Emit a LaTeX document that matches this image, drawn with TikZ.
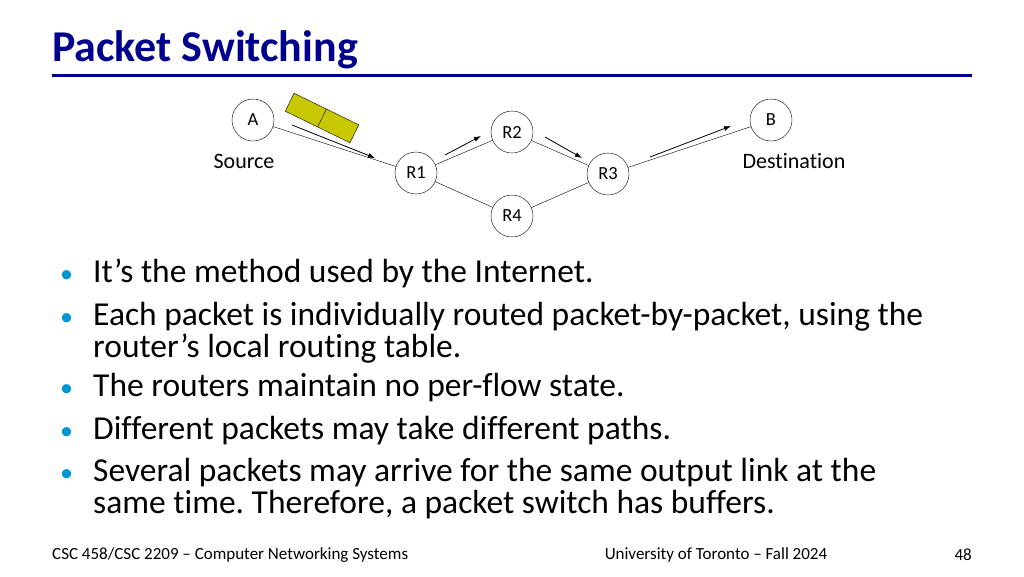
\documentclass[tikz,border=0pt]{standalone}
\usepackage{fontspec}
\setmainfont{Carlito}[RawFeature={-liga;-clig}]
\frenchspacing
\usetikzlibrary{arrows.meta}
\definecolor{titleblue}{RGB}{0,0,140}
\definecolor{bulletblue}{RGB}{0,150,210}
\definecolor{pktyellow}{RGB}{200,200,0}
\tikzset{
  router/.style={draw, circle, minimum size=42pt, inner sep=0pt, font=\fontsize{18.5}{20}\selectfont},
  lbl/.style={font=\fontsize{22}{26}\selectfont},
  flow/.style={-{Latex[length=7pt,width=5pt]}, line width=0.8pt},
  bullet/.style={anchor=base west, font=\fontsize{33.5}{38}\selectfont, inner sep=0pt},
  dot/.style={anchor=base west, font=\fontsize{26}{30}\selectfont, text=bulletblue, inner sep=0pt},
  foot/.style={font=\fontsize{17}{20}\selectfont, inner sep=0pt}
}
\begin{document}
\begin{tikzpicture}[x=1pt,y=1pt]
	\useasboundingbox (0,0) rectangle (1024,-576);
	% title
	\node [anchor=west, inner sep=0pt, font=\fontsize{44}{50}\selectfont\bfseries, text=titleblue] (title) at (52,-50) {Packet Switching};
	\draw [titleblue, line width=3pt] (52,-75) -- (972,-75);

	% network
	\node [router] (A) at (253,-120) {A};
	\node [router] (B) at (771,-120) {B};
	\node [router] (R1) at (416,-173) {R1};
	\node [router] (R2) at (512,-132) {R2};
	\node [router] (R3) at (608,-174) {R3};
	\node [router] (R4) at (512,-216) {R4};
	\node [lbl] (src) at (244,-161) {Source};
	\node [lbl] (dst) at (794,-161) {Destination};

	\draw (A) -- (R1);
	\draw (R1) -- (R2);
	\draw (R2) -- (R3);
	\draw (R1) -- (R4);
	\draw (R4) -- (R3);
	\draw (R3) -- (B);

	% packet
	\begin{scope}[shift={(322,-118)}, rotate=-26]
		\draw [fill=pktyellow] (-36,-10) rectangle (36,10);
		\draw (0,-10) -- (0,10);
	\end{scope}

	% flow arrows
	\coordinate (f1s) at (292,-125); \coordinate (f1e) at (375,-158);
	\coordinate (f2s) at (445,-155); \coordinate (f2e) at (481,-136);
	\coordinate (f3s) at (545,-137); \coordinate (f3e) at (582,-158);
	\coordinate (f4s) at (650,-157); \coordinate (f4e) at (731,-126);
	\draw [flow] (f1s) -- (f1e);
	\draw [flow] (f2s) -- (f2e);
	\draw [flow] (f3s) -- (f3e);
	\draw [flow] (f4s) -- (f4e);

	% bullets
	\node [dot] (d1) at (60,-282) {•};
	\node [bullet] (t1) at (93,-282) {It’s the method used by the Internet.};
	\node [dot] (d2) at (60,-325) {•};
	\node [bullet] (t2) at (93,-325) {Each packet is individually routed packet-by-packet, using the};
	\node [bullet] (t2b) at (93,-357) {router’s local routing table.};
	\node [dot] (d3) at (60,-396) {•};
	\node [bullet] (t3) at (93,-396) {The routers maintain no per-flow state.};
	\node [dot] (d4) at (60,-439) {•};
	\node [bullet] (t4) at (93,-439) {Different packets may take different paths.};
	\node [dot] (d5) at (60,-481) {•};
	\node [bullet] (t5) at (93,-481) {Several packets may arrive for the same output link at the};
	\node [bullet] (t5b) at (93,-513) {same time. Therefore, a packet switch has buffers.};

	% footer
	\node [foot, anchor=west] (f1) at (52,-555) {CSC 458/CSC 2209 – Computer Networking Systems};
	\node [foot] (f2) at (716,-555) {University of Toronto – Fall 2024};
	\node [foot, anchor=east] (f3) at (972,-555) {48};
\end{tikzpicture}
\end{document}
